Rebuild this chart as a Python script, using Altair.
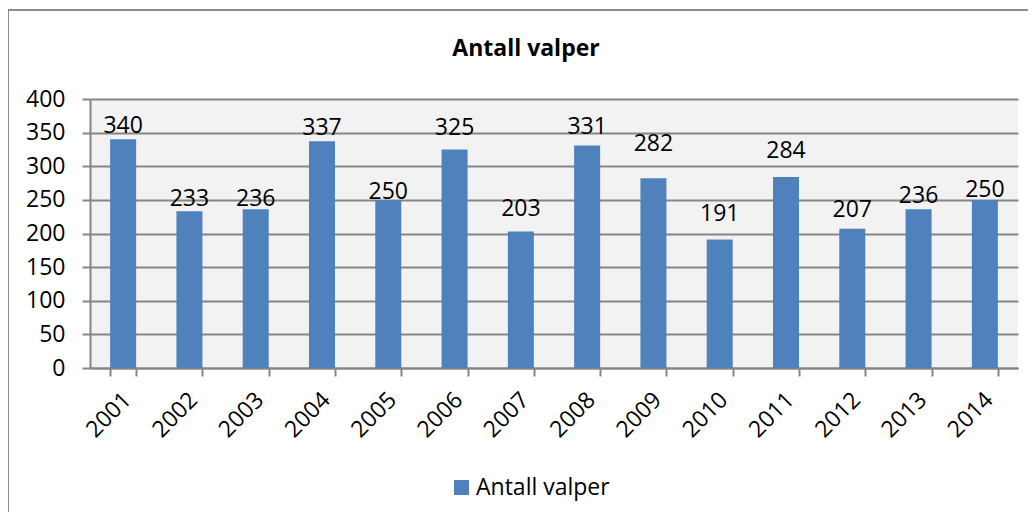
import altair as alt
import pandas as pd

# ---- data ----
years = ["2001", "2002", "2003", "2004", "2005", "2006", "2007",
         "2008", "2009", "2010", "2011", "2012", "2013", "2014"]
puppies = [340, 233, 236, 337, 250, 325, 203, 331, 282, 191, 284, 207, 236, 250]
series_name = "Antall valper"
title_text = "Antall valper"
y_ticks = [0, 50, 100, 150, 200, 250, 300, 350, 400]

# ---- styling: how far (px) each data label sits above its bar ----
label_gap_px = [6, 5, 3, 6, 1, 14, 15, 11, 27, 19, 19, 12, 6, 3]

FONT = "Open Sans"
FS = 23
BAR = "#4f81bd"
GRID = "#868686"
W, H = 928, 269
YMAX = 400

df = pd.DataFrame({
    "year": years,
    "value": puppies,
    "series": [series_name] * len(years),
    "gap": label_gap_px,
})

x_axis = alt.Axis(
    title=None, tickBand="extent", tickSize=8, tickColor=GRID, tickWidth=2,
    domainColor=GRID, domainWidth=2, labelAngle=-45, labelAlign="right",
    labelBaseline="middle", labelFontSize=FS, labelFont=FONT, labelColor="black",
    labelPadding=20, labelOffset=4, labelOverlap=False, grid=False,
)
y_axis = alt.Axis(
    title=None, values=y_ticks, grid=True, gridColor=GRID,
    gridWidth=2, tickSize=8, tickColor=GRID, tickWidth=2, domainColor=GRID,
    domainWidth=2, labelFontSize=FS, labelFont=FONT, labelColor="black",
    labelPadding=17, labelOverlap=False,
)
x_scale = alt.Scale(paddingInner=0.608, paddingOuter=0.304)
y_scale = alt.Scale(domain=[0, YMAX], nice=False)

base = alt.Chart(df)

bars = base.mark_bar().encode(
    x=alt.X("year:N", sort=years, scale=x_scale, axis=x_axis),
    y=alt.Y("value:Q", scale=y_scale, axis=y_axis),
    color=alt.Color(
        "series:N",
        scale=alt.Scale(domain=[series_name], range=[BAR]),
        legend=alt.Legend(
            title=None, orient="none", legendX=360, legendY=377, symbolType="square",
            symbolSize=225, symbolStrokeWidth=0, labelFontSize=FS, labelFont=FONT,
            labelColor="black", padding=0, symbolOffset=0, labelOffset=3,
        ),
    ),
)

labels = base.transform_calculate(
    label_pos=f"datum.value + datum.gap * {YMAX} / {H}"
).mark_text(baseline="alphabetic", align="center", fontSize=FS,
            font=FONT, color="black").encode(
    x=alt.X("year:N", sort=years, scale=x_scale, axis=x_axis),
    y=alt.Y("label_pos:Q", scale=y_scale, axis=y_axis),
    text=alt.Text("value:Q"),
)

title_df = pd.DataFrame({"t": [title_text]})
title = alt.Chart(title_df).mark_text(
    fontSize=FS, fontWeight="bold", font=FONT, color="black",
    align="center", baseline="alphabetic",
).encode(x=alt.value(436), y=alt.value(-43), text="t:N")

frame_df = pd.DataFrame({"f": [1]})
frame = alt.Chart(frame_df).mark_rect(
    fill=None, stroke="#8c8c8c", strokeWidth=2,
).encode(x=alt.value(-82), x2=alt.value(960), y=alt.value(-89), y2=alt.value(450))

chart = alt.layer(frame, bars, labels, title).properties(
    width=W, height=H,
    autosize=alt.AutoSizeParams(type="none"),
    padding={"left": 82, "top": 91, "right": 10, "bottom": 144},
).configure_view(fill="#f2f2f2", stroke=None)

chart.save("out.html", embed_options={"renderer": "svg", "actions": False})
